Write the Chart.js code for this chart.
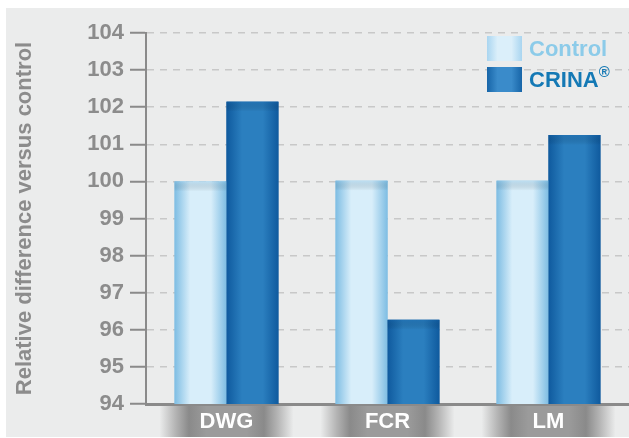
<!DOCTYPE html>
<html>
<head>
<meta charset="utf-8">
<script src="https://cdn.jsdelivr.net/npm/chart.js@4.4.1/dist/chart.umd.min.js"></script>
<style>
  html, body { margin: 0; padding: 0; background: #fff; }
  canvas { display: block; }
</style>
</head>
<body>
<canvas id="barChart" width="629" height="438"></canvas>
<script>
// 데이터
const categories = ['DWG', 'FCR', 'LM'];
const seriesNames = ['Control', 'CRINA®'];
const controlValues = [100, 100.02, 100.02];
const crinaValues = [102.15, 96.27, 101.25];
const yMin = 94;
const yMax = 104;

const FONT = "'Liberation Sans', Arial, Helvetica, sans-serif";
const GREY = '#8c8c8c';

// 막대 색 (가장자리, 가운데)
const barColors = [
  { edge: '#7ebde3', mid: '#d8eefa', text: '#8ccbe9' },
  { edge: '#0f5a9e', mid: '#2b7fbf', text: '#1479b5' }
];

function hGrad(ctx, x0, x1, edge, mid) {
  const g = ctx.createLinearGradient(x0, 0, x1, 0);
  g.addColorStop(0, edge);
  g.addColorStop(0.3, mid);
  g.addColorStop(0.7, mid);
  g.addColorStop(1, edge);
  return g;
}

// 배경 + x 라벨 회색 띠
const backdrop = {
  id: 'backdrop',
  beforeDraw(chart) {
    const ctx = chart.ctx;
    const x = chart.scales.x;
    ctx.save();
    ctx.fillStyle = '#ebecec';
    ctx.fillRect(6, 8, chart.width - 6, chart.height - 9);
    const top = chart.chartArea.bottom + 1;
    const h = chart.height - 1 - top;
    categories.forEach((c, i) => {
      const cx = x.getPixelForValue(i);
      const w = 134;
      const g = ctx.createLinearGradient(cx - w / 2, 0, cx + w / 2, 0);
      g.addColorStop(0, 'rgba(235,236,236,1)');
      g.addColorStop(0.12, '#b4b4b4');
      g.addColorStop(0.22, '#8a8a8a');
      g.addColorStop(0.35, '#9b9b9b');
      g.addColorStop(0.65, '#9b9b9b');
      g.addColorStop(0.78, '#8a8a8a');
      g.addColorStop(0.88, '#b4b4b4');
      g.addColorStop(1, 'rgba(235,236,236,1)');
      ctx.fillStyle = g;
      ctx.fillRect(cx - w / 2, top, w, h);
    });
    ctx.restore();
  }
};

// 막대 그라데이션
const barShade = {
  id: 'barShade',
  afterDatasetsDraw(chart) {
    const ctx = chart.ctx;
    const a = chart.chartArea;
    ctx.save();
    ctx.beginPath();
    ctx.rect(a.left, a.top, a.right - a.left, a.bottom - a.top);
    ctx.clip();
    chart.data.datasets.forEach((ds, di) => {
      const meta = chart.getDatasetMeta(di);
      const col = barColors[di];
      meta.data.forEach(el => {
        const p = el.getProps(['x', 'y', 'base', 'width'], true);
        const left = p.x - p.width / 2;
        const right = p.x + p.width / 2;
        const bottom = Math.min(p.base, a.bottom);
        ctx.fillStyle = hGrad(ctx, left, right, col.edge, col.mid);
        ctx.fillRect(left, p.y, p.width, bottom - p.y);
        const vg = ctx.createLinearGradient(0, p.y, 0, p.y + 10);
        vg.addColorStop(0, col.edge);
        vg.addColorStop(1, 'rgba(0,0,0,0)');
        ctx.globalAlpha = 0.3;
        ctx.fillStyle = vg;
        ctx.fillRect(left, p.y, p.width, Math.min(10, bottom - p.y));
        ctx.globalAlpha = 1;
      });
    });
    ctx.restore();
  }
};

// 범례
const boxLegend = {
  id: 'boxLegend',
  afterDraw(chart) {
    const ctx = chart.ctx;
    ctx.save();
    const bx = 487, bw = 35, bh = 25;
    const rows = [36, 67];
    chart.data.datasets.forEach((ds, i) => {
      const y = rows[i];
      const col = barColors[i];
      const soft = i === 0 ? { edge: '#a9d5f0', mid: '#dbeffa' } : { edge: '#1765a8', mid: '#3a8bca' };
      ctx.fillStyle = hGrad(ctx, bx, bx + bw, soft.edge, soft.mid);
      ctx.fillRect(bx, y, bw, bh);
      ctx.fillStyle = col.text;
      ctx.font = 'bold 22px ' + FONT;
      ctx.textBaseline = 'middle';
      ctx.textAlign = 'left';
      let label = ds.label;
      let sup = '';
      if (label.endsWith('®')) { sup = '®'; label = label.slice(0, -1); }
      ctx.fillText(label, 529, y + bh / 2 + 1);
      if (sup) {
        const w = ctx.measureText(label).width;
        ctx.font = 'bold 15px ' + FONT;
        ctx.fillText(sup, 529 + w, y + 6);
      }
    });
    ctx.restore();
  }
};

const data = {
  labels: categories,
  datasets: [{
    label: seriesNames[0],
    data: controlValues,
    backgroundColor: barColors[0].edge,
    borderWidth: 0,
    categoryPercentage: 0.645,
    barPercentage: 1
  }, {
    label: seriesNames[1],
    data: crinaValues,
    backgroundColor: barColors[1].edge,
    borderWidth: 0,
    categoryPercentage: 0.645,
    barPercentage: 1
  }]
};

const config = {
  type: 'bar',
  data: data,
  options: {
    responsive: false,
    animation: false,
    devicePixelRatio: 1,
    layout: { padding: { top: 33, right: 0, left: 0, bottom: 0 } },
    plugins: {
      legend: { display: false },
      tooltip: { enabled: false }
    },
    scales: {
      x: {
        grid: { display: false, drawTicks: false },
        border: { display: true, color: '#8a8a8a', width: 3 },
        ticks: {
          color: '#ffffff',
          padding: 5,
          font: { family: FONT, size: 22, weight: 'bold' }
        },
        afterFit: s => { s.height = 34; }
      },
      y: {
        min: yMin,
        max: yMax,
        ticks: {
          stepSize: 1,
          color: GREY,
          padding: 6,
          font: { family: FONT, size: 22, weight: 'bold' }
        },
        grid: {
          color: '#c8c8c8',
          lineWidth: 1.5,
          tickColor: '#8a8a8a',
          tickLength: 16,
          tickWidth: 2
        },
        border: { color: '#8a8a8a', width: 2, dash: [7, 6] },
        title: {
          display: true,
          text: 'Relative difference versus control',
          color: GREY,
          padding: { top: 12, bottom: 0 },
          font: { family: FONT, size: 22, weight: 'bold' }
        },
        afterFit: s => { s.width = 146; }
      }
    }
  },
  plugins: [backdrop, barShade, boxLegend]
};

var myChart = new Chart(document.getElementById('barChart'), config);
</script>
</body>
</html>
